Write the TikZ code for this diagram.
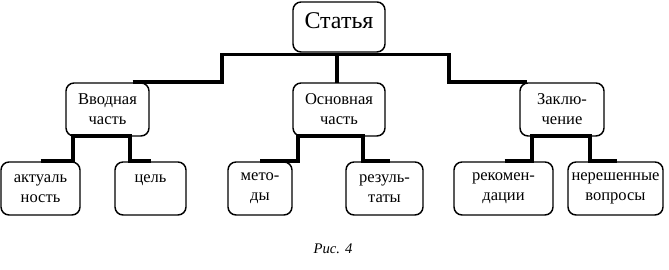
\documentclass[tikz,border=0pt]{standalone}
\usepackage{fontspec}
\setmainfont{Liberation Serif}
\usetikzlibrary{positioning, calc}

\begin{document}
\begin{tikzpicture}[
  x=0.75pt, y=-0.75pt,
  box/.style={draw, line width=1.1pt, rounded corners=6pt, inner sep=0pt,
              outer sep=0pt, minimum height=39.75pt, align=center,
              font=\fontsize{12.4}{15}\selectfont},
  topbox/.style={box, minimum width=69pt, minimum height=37.5pt,
                 text height=12pt, text depth=9pt,
                 font=\fontsize{18}{20}\selectfont},
  link/.style={line width=2.4pt}
]
\useasboundingbox (0,0) rectangle (669,270);

\node[topbox] (stat) at (339,27) {Статья};

\node[box, minimum width=62.25pt] (vvod) at (107.5,109.5) {Вводная\\часть};
\node[box, minimum width=69pt]    (osn)  at (339,109.5)   {Основная\\часть};
\node[box, minimum width=63pt]    (zakl) at (562,109.5)   {Заклю-\\чение};

\node[box, minimum width=59.25pt] (akt) at (40.5,188.5)  {актуаль\\ность};
\node[box, minimum width=53.25pt] (cel) at (150.5,188.5) {цель\\~};
\node[box, minimum width=48pt]    (met) at (260,188.5)   {мето-\\ды};
\node[box, minimum width=57.75pt] (rez) at (384.5,188.5) {резуль-\\таты};
\node[box, minimum width=74.25pt] (rek) at (503.5,188.5) {рекомен-\\дации};
\node[box, minimum width=71.25pt] (ner) at (615.5,188.5) {нерешенные\\вопросы};

% upper level
\draw[link] ($(vvod.north)+(25,-1)$) -| ($(stat.south)+(-117,2.5)$)
  -- ($(stat.south)+(110,2.5)$) |- ($(zakl.north)+(-35,-1)$);
\draw[link] ($(stat.south)+(-2,2.5)$) -- ($(osn.north)+(-2,0)$);

% lower level
\draw[link] ($(akt.north)+(0,-1)$) -| ($(vvod.south west)+(7,0)$)
  -- ($(vvod.south east)+(-19,0)$) |- ($(cel.north)+(0,-1)$);
\draw[link] ($(met.north)+(0,-1)$) -| ($(osn.south west)+(5,0)$)
  -- ($(osn.south east)+(-22,0)$) |- ($(rez.north)+(5,-1)$);
\draw[link] ($(rek.north)+(1,-1)$) -| ($(zakl.south west)+(12,0)$)
  -- ($(zakl.south east)+(-14,0)$) |- ($(ner.north)+(1,-1)$);

\node[font=\fontsize{11}{13}\selectfont\itshape] (cap) at (333,249) {Рис. 4};
\end{tikzpicture}
\end{document}
